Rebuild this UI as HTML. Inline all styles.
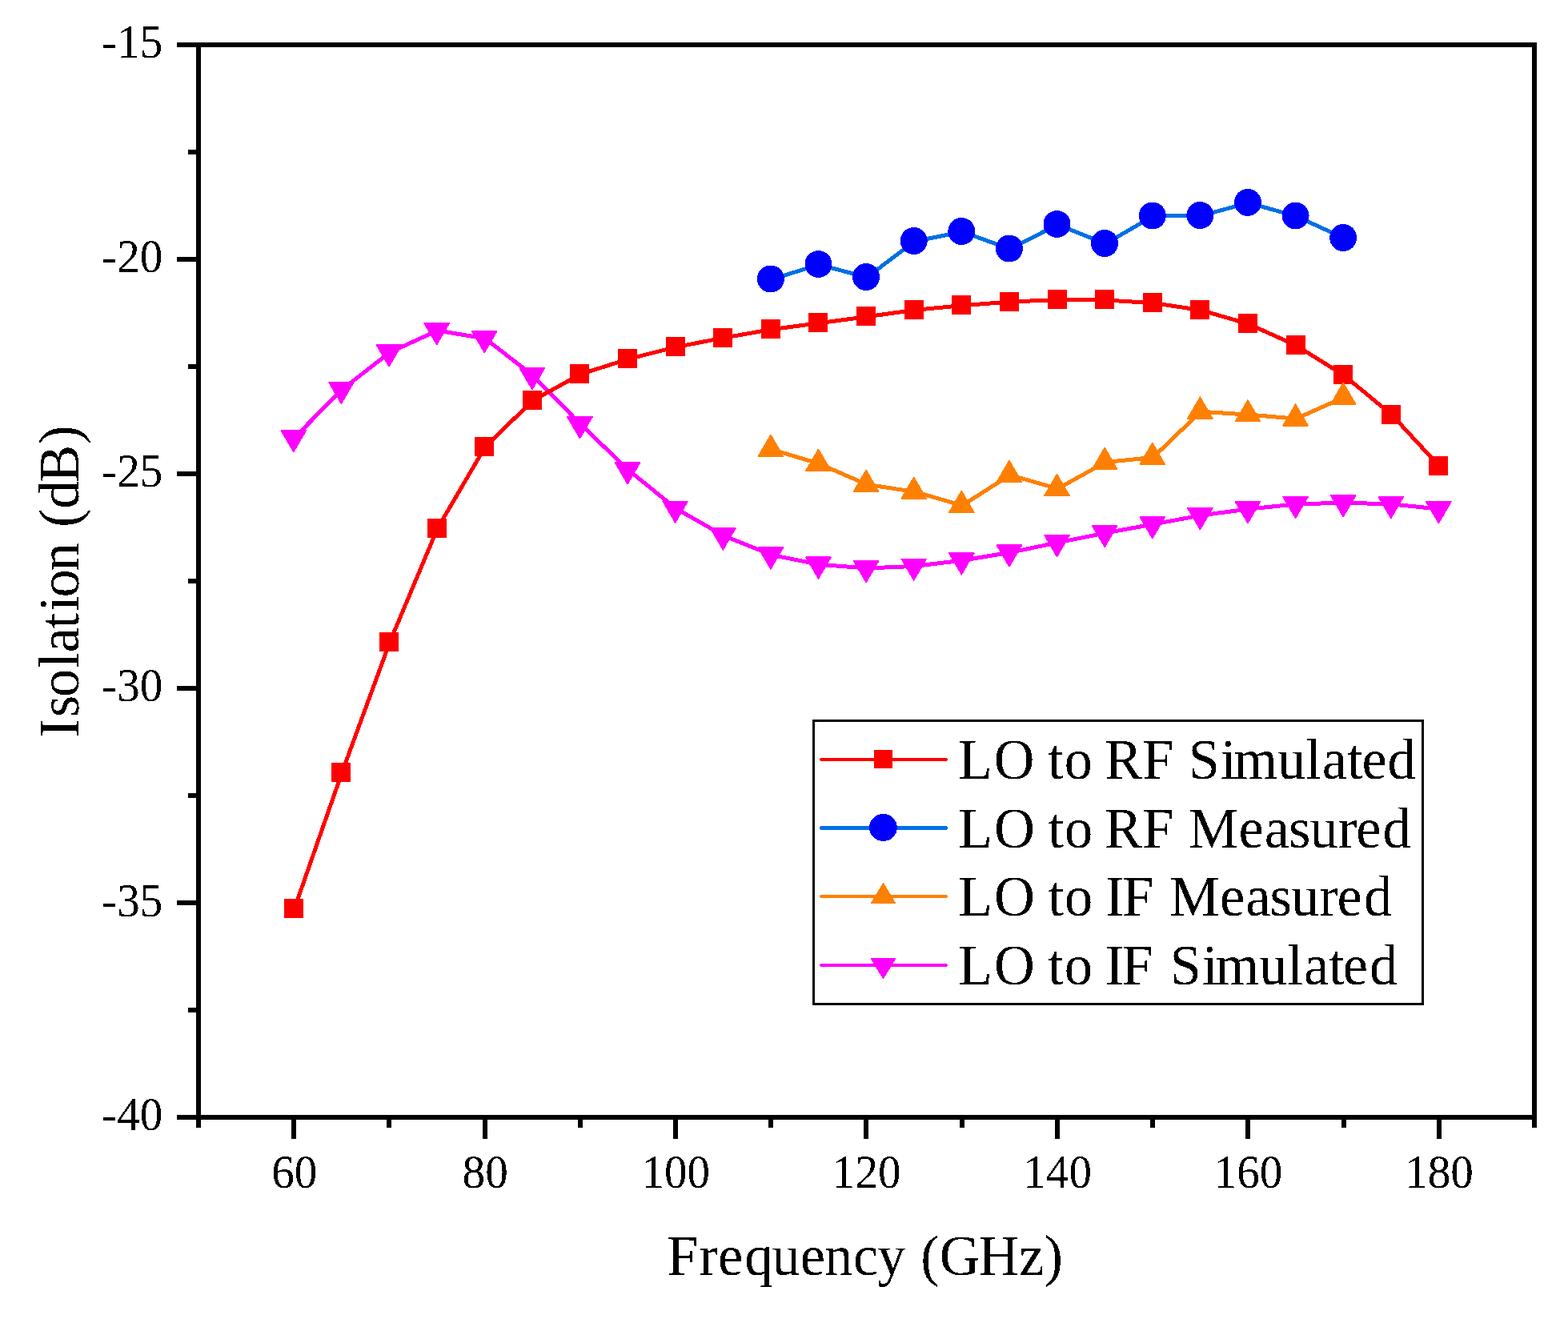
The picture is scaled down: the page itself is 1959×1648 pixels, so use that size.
<!DOCTYPE html>
<html lang="en"><head><meta charset="utf-8"><title>Isolation vs Frequency</title>
<style>html,body{margin:0;padding:0;background:#fff;}body{width:1959px;height:1648px;overflow:hidden;}svg{display:block;}text{font-family:"Liberation Serif",serif;fill:#000;}</style>
</head><body>
<svg width="1959" height="1648" viewBox="0 0 1959 1648">
<defs><filter id="aliased" x="0" y="0" width="1959" height="1648" filterUnits="userSpaceOnUse" color-interpolation-filters="sRGB"><feComponentTransfer><feFuncA type="discrete" tableValues="0 1"/></feComponentTransfer></filter></defs>
<rect x="0" y="0" width="1959" height="1648" fill="#fff"/>
<g fill="#000" shape-rendering="crispEdges">
<rect x="245" y="53" width="1675" height="6"/>
<rect x="245" y="1393" width="1675" height="6"/>
<rect x="245" y="53" width="6" height="1346"/>
<rect x="1914" y="53" width="6" height="1346"/>
<rect x="221" y="53" width="25" height="6"/>
<rect x="221" y="321" width="25" height="6"/>
<rect x="221" y="589" width="25" height="6"/>
<rect x="221" y="857" width="25" height="6"/>
<rect x="221" y="1125" width="25" height="6"/>
<rect x="221" y="1393" width="25" height="6"/>
<rect x="235" y="187" width="11" height="6"/>
<rect x="235" y="455" width="11" height="6"/>
<rect x="235" y="723" width="11" height="6"/>
<rect x="235" y="991" width="11" height="6"/>
<rect x="235" y="1259" width="11" height="6"/>
<rect x="364" y="1398" width="6" height="25"/>
<rect x="603" y="1398" width="6" height="25"/>
<rect x="841" y="1398" width="6" height="25"/>
<rect x="1079" y="1398" width="6" height="25"/>
<rect x="1318" y="1398" width="6" height="25"/>
<rect x="1556" y="1398" width="6" height="25"/>
<rect x="1795" y="1398" width="6" height="25"/>
<rect x="245" y="1398" width="6" height="11"/>
<rect x="483" y="1398" width="6" height="11"/>
<rect x="722" y="1398" width="6" height="11"/>
<rect x="960" y="1398" width="6" height="11"/>
<rect x="1199" y="1398" width="6" height="11"/>
<rect x="1437" y="1398" width="6" height="11"/>
<rect x="1676" y="1398" width="6" height="11"/>
<rect x="1914" y="1398" width="6" height="11"/>
</g>
<g id="labels" filter="url(#aliased)">
<g id="y-tick-labels">
<text transform="translate(203.3 72) scale(0.985 1.017)" font-size="58" text-anchor="end">-15</text>
<text transform="translate(203.3 340) scale(0.985 1.017)" font-size="58" text-anchor="end">-20</text>
<text transform="translate(203.3 608) scale(0.985 1.017)" font-size="58" text-anchor="end">-25</text>
<text transform="translate(203.3 876) scale(0.985 1.017)" font-size="58" text-anchor="end">-30</text>
<text transform="translate(203.3 1145) scale(0.985 1.017)" font-size="58" text-anchor="end">-35</text>
<text transform="translate(203.3 1412) scale(0.985 1.017)" font-size="58" text-anchor="end">-40</text>
</g>
<g id="x-tick-labels">
<text transform="translate(367.71 1483.6) scale(0.985 1.017)" font-size="58" text-anchor="middle">60</text>
<text transform="translate(606.14 1483.6) scale(0.985 1.017)" font-size="58" text-anchor="middle">80</text>
<text transform="translate(844.27 1483.6) scale(0.985 1.017)" font-size="58" text-anchor="middle">100</text>
<text transform="translate(1082.7 1483.6) scale(0.985 1.017)" font-size="58" text-anchor="middle">120</text>
<text transform="translate(1321.13 1483.6) scale(0.985 1.017)" font-size="58" text-anchor="middle">140</text>
<text transform="translate(1559.56 1483.6) scale(0.985 1.017)" font-size="58" text-anchor="middle">160</text>
<text transform="translate(1797.99 1483.6) scale(0.985 1.017)" font-size="58" text-anchor="middle">180</text>
</g>
<text transform="translate(1080.7 1592.8) scale(0.978 1)" font-size="72" text-anchor="middle" dx="0 1.02 0 2.04 -1.02 0 -1.02 1.02 -1.02 0 1.02 0 -2.04 0 0">Frequency (GHz)</text>
<text transform="translate(98.1 726.4) rotate(-90) scale(0.972 1)" font-size="72" text-anchor="middle" dx="0 2.06 -2.06 1.03 0 -1.03 2.06 -2.06 -2.06 0 2.06 0 -2.06 1.03">Isolation (dB)</text>
</g>
<g id="series-lo-if-sim">
<polyline points="367.71,547.03 427.32,486.73 486.93,440.33 546.54,413.03 606.14,422.93 665.75,469.13 725.36,530.13 784.96,587.13 844.57,635.43 904.18,669.33 963.79,693.33 1023.39,705.33 1083,709.93 1142.61,707.43 1202.21,700.23 1261.82,690.33 1321.43,677.93 1381.04,665.93 1440.64,655.13 1500.25,643.93 1559.86,636.03 1619.46,629.93 1679.07,628.13 1738.68,629.93 1798.29,636.03" fill="none" stroke="#ff00ff" stroke-width="5" stroke-linejoin="round" stroke-linecap="butt" shape-rendering="crispEdges"/>
<g fill="#ff00ff" stroke="#ff00ff" stroke-width="1.6" stroke-linejoin="round" shape-rendering="crispEdges"><polygon points="351.31,537.91 382.31,537.91 366.81,564.51"/><polygon points="410.92,477.61 441.92,477.61 426.42,504.21"/><polygon points="470.53,431.21 501.53,431.21 486.03,457.81"/><polygon points="530.14,403.91 561.14,403.91 545.64,430.51"/><polygon points="589.74,413.81 620.74,413.81 605.24,440.41"/><polygon points="649.35,460.01 680.35,460.01 664.85,486.61"/><polygon points="708.96,521.01 739.96,521.01 724.46,547.61"/><polygon points="768.56,578.01 799.56,578.01 784.06,604.61"/><polygon points="828.17,626.31 859.17,626.31 843.67,652.91"/><polygon points="887.78,660.21 918.78,660.21 903.28,686.81"/><polygon points="947.39,684.21 978.39,684.21 962.89,710.81"/><polygon points="1006.99,696.21 1037.99,696.21 1022.49,722.81"/><polygon points="1066.6,700.81 1097.6,700.81 1082.1,727.41"/><polygon points="1126.21,698.31 1157.21,698.31 1141.71,724.91"/><polygon points="1185.81,691.11 1216.81,691.11 1201.31,717.71"/><polygon points="1245.42,681.21 1276.42,681.21 1260.92,707.81"/><polygon points="1305.03,668.81 1336.03,668.81 1320.53,695.41"/><polygon points="1364.64,656.81 1395.64,656.81 1380.14,683.41"/><polygon points="1424.24,646.01 1455.24,646.01 1439.74,672.61"/><polygon points="1483.85,634.81 1514.85,634.81 1499.35,661.41"/><polygon points="1543.46,626.91 1574.46,626.91 1558.96,653.51"/><polygon points="1603.06,620.81 1634.06,620.81 1618.56,647.41"/><polygon points="1662.67,619.01 1693.67,619.01 1678.17,645.61"/><polygon points="1722.28,620.81 1753.28,620.81 1737.78,647.41"/><polygon points="1781.89,626.91 1812.89,626.91 1797.39,653.51"/></g>
</g>
<g id="series-lo-rf-sim">
<polyline points="367.71,1135.6 427.32,965.1 486.93,802.5 546.54,660.3 606.14,558.4 665.75,500.4 725.36,467.5 784.96,448.6 844.57,433.6 904.18,422.1 963.79,411.6 1023.39,403.7 1083,395.7 1142.61,387.4 1202.21,381.65 1261.82,377.1 1321.43,374.5 1381.04,375 1440.64,378.6 1500.25,387.5 1559.86,404.8 1619.46,431.7 1679.07,468.9 1738.68,518.1 1798.29,582.6" fill="none" stroke="#ff0000" stroke-width="5" stroke-linejoin="round" stroke-linecap="butt" shape-rendering="crispEdges"/>
<g fill="#ff0000" shape-rendering="crispEdges"><rect x="354.81" y="1123" width="24" height="24"/><rect x="414.42" y="952.5" width="24" height="24"/><rect x="474.03" y="789.9" width="24" height="24"/><rect x="533.64" y="647.7" width="24" height="24"/><rect x="593.24" y="545.8" width="24" height="24"/><rect x="652.85" y="487.8" width="24" height="24"/><rect x="712.46" y="454.9" width="24" height="24"/><rect x="772.06" y="436" width="24" height="24"/><rect x="831.67" y="421" width="24" height="24"/><rect x="891.28" y="409.5" width="24" height="24"/><rect x="950.89" y="399" width="24" height="24"/><rect x="1010.49" y="391.1" width="24" height="24"/><rect x="1070.1" y="383.1" width="24" height="24"/><rect x="1129.71" y="374.8" width="24" height="24"/><rect x="1189.31" y="369.05" width="24" height="24"/><rect x="1248.92" y="364.5" width="24" height="24"/><rect x="1308.53" y="361.9" width="24" height="24"/><rect x="1368.14" y="362.4" width="24" height="24"/><rect x="1427.74" y="366" width="24" height="24"/><rect x="1487.35" y="374.9" width="24" height="24"/><rect x="1546.96" y="392.2" width="24" height="24"/><rect x="1606.56" y="419.1" width="24" height="24"/><rect x="1666.17" y="456.3" width="24" height="24"/><rect x="1725.78" y="505.5" width="24" height="24"/><rect x="1785.39" y="570" width="24" height="24"/></g>
</g>
<g id="series-lo-rf-meas">
<polyline points="963.79,349.1 1023.39,330.6 1083,346.6 1142.61,301.6 1202.21,289.6 1261.82,311.1 1321.43,280.6 1381.04,304.6 1440.64,270.1 1500.25,269.6 1559.86,253.5 1619.46,270.1 1679.07,297.6" fill="none" stroke="#0070e4" stroke-width="5" stroke-linejoin="round" stroke-linecap="butt" shape-rendering="crispEdges"/>
<g fill="#0000ff" shape-rendering="crispEdges"><circle cx="962.89" cy="348.5" r="17"/><circle cx="1022.49" cy="330" r="17"/><circle cx="1082.1" cy="346" r="17"/><circle cx="1141.71" cy="301" r="17"/><circle cx="1201.31" cy="289" r="17"/><circle cx="1260.92" cy="310.5" r="17"/><circle cx="1320.53" cy="280" r="17"/><circle cx="1380.14" cy="304" r="17"/><circle cx="1439.74" cy="269.5" r="17"/><circle cx="1499.35" cy="269" r="17"/><circle cx="1558.96" cy="252.9" r="17"/><circle cx="1618.56" cy="269.5" r="17"/><circle cx="1678.17" cy="297" r="17"/></g>
</g>
<g id="series-lo-if-meas">
<polyline points="963.79,561.47 1023.39,579.37 1083,605.37 1142.61,614.37 1202.21,631.57 1261.82,593.57 1321.43,610.57 1381.04,577.57 1440.64,571.47 1500.25,514.27 1559.86,518.07 1619.46,523.17 1679.07,496.37" fill="none" stroke="#ff8000" stroke-width="5" stroke-linejoin="round" stroke-linecap="butt" shape-rendering="crispEdges"/>
<g fill="#ff8000" stroke="#ff8000" stroke-width="1.6" stroke-linejoin="round" shape-rendering="crispEdges"><polygon points="962.89,543.49 978.39,570.09 947.39,570.09"/><polygon points="1022.49,561.39 1037.99,587.99 1006.99,587.99"/><polygon points="1082.1,587.39 1097.6,613.99 1066.6,613.99"/><polygon points="1141.71,596.39 1157.21,622.99 1126.21,622.99"/><polygon points="1201.31,613.59 1216.81,640.19 1185.81,640.19"/><polygon points="1260.92,575.59 1276.42,602.19 1245.42,602.19"/><polygon points="1320.53,592.59 1336.03,619.19 1305.03,619.19"/><polygon points="1380.14,559.59 1395.64,586.19 1364.64,586.19"/><polygon points="1439.74,553.49 1455.24,580.09 1424.24,580.09"/><polygon points="1499.35,496.29 1514.85,522.89 1483.85,522.89"/><polygon points="1558.96,500.09 1574.46,526.69 1543.46,526.69"/><polygon points="1618.56,505.19 1634.06,531.79 1603.06,531.79"/><polygon points="1678.17,478.39 1693.67,504.99 1662.67,504.99"/></g>
</g>
<g id="legend">
<rect x="1016.5" y="900.5" width="761" height="354" fill="#fff" stroke="#000" stroke-width="3" shape-rendering="crispEdges"/>
<g fill="#ff0000" shape-rendering="crispEdges"><rect x="1025" y="947" width="158" height="4"/><rect x="1024" y="948" width="160" height="2"/></g>
<g fill="#ff0000" shape-rendering="crispEdges"><rect x="1092" y="937" width="23" height="23"/></g>
<g fill="#0070e4" shape-rendering="crispEdges"><rect x="1025" y="1032" width="158" height="5"/><rect x="1024" y="1033" width="160" height="3"/></g>
<g fill="#0000ff" shape-rendering="crispEdges"><ellipse cx="1103.5" cy="1034" rx="17.4" ry="17"/></g>
<g fill="#ff8000" shape-rendering="crispEdges"><rect x="1025" y="1118" width="158" height="4"/><rect x="1024" y="1119" width="160" height="2"/></g>
<g fill="#ff8000" stroke="#ff8000" stroke-width="1.6" stroke-linejoin="round" shape-rendering="crispEdges"><polygon points="1103.5,1104 1118.3,1128.4 1088.7,1128.4"/></g>
<g fill="#ff00ff" shape-rendering="crispEdges"><rect x="1025" y="1204" width="158" height="4"/><rect x="1024" y="1205" width="160" height="2"/></g>
<g fill="#ff00ff" stroke="#ff00ff" stroke-width="1.6" stroke-linejoin="round" shape-rendering="crispEdges"><polygon points="1088.7,1197.8 1118.3,1197.8 1103.5,1222.2"/></g>
<g id="legend-labels" filter="url(#aliased)">
<text transform="translate(1196.9 972.8) scale(0.9758 1)" font-size="72" dx="0 2.05 0 -1.02 1.02 0 -2.05 0 0 1.02 1.02 -3.07 0 0 1.02 0 -1.02 1.02">LO to RF Simulated</text>
<text transform="translate(1196.9 1058.8) scale(0.9789 1)" font-size="72" dx="0 2.04 0 -1.02 1.02 0 -3.06 0 0 1.02 0 1.02 -1.02 -1.02 0 -1.02 2.04">LO to RF Measured</text>
<text transform="translate(1196.9 1144) scale(0.9789 1)" font-size="72" dx="0 2.04 0 -1.02 1.02 0 -2.04 -2.55 0 2.55 0 1.02 -1.02 -1.02 0 -1.02 2.04">LO to IF Measured</text>
<text transform="translate(1196.9 1229.7) scale(0.9774 1)" font-size="72" dx="0 2.05 0 -1.02 1.02 0 -2.05 -2.56 0 3.58 1.02 -3.07 0 0 1.02 0 -2.05 2.05">LO to IF Simulated</text>
</g>
</g>
</svg>
</body></html>
